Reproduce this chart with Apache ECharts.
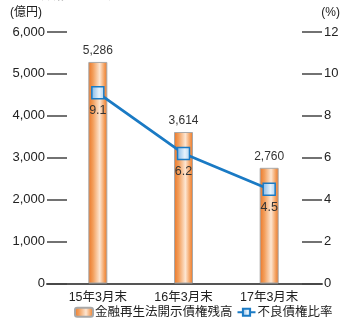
<!DOCTYPE html>
<html>
<head>
<meta charset="utf-8">
<script src="https://cdn.jsdelivr.net/npm/echarts@6/dist/echarts.min.js"></script>
<style>
  html, body { margin: 0; padding: 0; background: #fff; }
  #chart { width: 344px; height: 323px; }
</style>
</head>
<body>
<div id="chart"></div>
<script>
// Fiscal period categories
var categories = ['15年3月末', '16年3月末', '17年3月末'];
// Disclosed claims under the Financial Reconstruction Act (100 million yen)
var claimBalance = [5286, 3614, 2760];
// Non-performing loan ratio (%)
var nplRatio = [9.1, 6.2, 4.5];
// Axis settings
var leftAxis = { min: 0, max: 6000, interval: 1000 };
var rightAxis = { min: 0, max: 12, interval: 2 };

var FONT = "'Liberation Sans', 'Noto Sans CJK JP', sans-serif";
var chart = echarts.init(document.getElementById('chart'), null, { renderer: 'canvas' });

function addCommas(v) {
  return String(v).replace(/\B(?=(\d{3})+(?!\d))/g, ',');
}

var barFill = new echarts.graphic.LinearGradient(0, 0, 1, 0, [
  { offset: 0, color: '#ea7628' },
  { offset: 0.25, color: '#f39f5c' },
  { offset: 0.6, color: '#fde6d2' },
  { offset: 0.85, color: '#f39c58' },
  { offset: 1, color: '#ea7628' }
]);
var markerFill = new echarts.graphic.LinearGradient(0, 0, 1, 0, [
  { offset: 0, color: '#7fb6e6' },
  { offset: 0.6, color: '#e8f3fc' },
  { offset: 1, color: '#a9cfee' }
]);

var tickStyle = { color: '#444', width: 1.5 };
var labelStyle = { color: '#222', fontSize: 13, fontFamily: FONT };

chart.setOption({
  animation: false,
  textStyle: { fontFamily: FONT },
  grid: [
    { left: 55, right: 32, top: 32, bottom: 39.5 },
    { left: 47, right: 22, top: 32, bottom: 39.5 }
  ],
  graphic: [
    { type: 'text', left: 20, top: -10, style: { text: '不良債権等の推移', font: 'bold 12px ' + FONT, fill: '#222' } },
    { type: 'text', left: 10, top: 7, style: { text: '(億円)', font: '12px ' + FONT, fill: '#222' } },
    { type: 'text', right: 4, top: 7, style: { text: '(%)', font: '12px ' + FONT, fill: '#222' } }
  ],
  xAxis: [
    {
      type: 'category', gridIndex: 0, data: categories,
      axisLine: { show: false }, axisTick: { show: false },
      axisLabel: { color: '#222', fontSize: 12.5, margin: 8, fontFamily: FONT }
    },
    {
      type: 'category', gridIndex: 1, data: categories,
      axisLine: { show: true, lineStyle: { color: '#555', width: 2 } },
      axisTick: { show: false }, axisLabel: { show: false }
    }
  ],
  yAxis: [
    {
      type: 'value', gridIndex: 0, position: 'left', offset: 8,
      min: leftAxis.min, max: leftAxis.max, interval: leftAxis.interval,
      axisLine: { show: false },
      axisTick: { show: true, inside: true, length: 20, lineStyle: tickStyle },
      axisLabel: Object.assign({ margin: 2, formatter: addCommas }, labelStyle),
      splitLine: { show: false }
    },
    {
      type: 'value', gridIndex: 0, position: 'right', offset: 10,
      min: rightAxis.min, max: rightAxis.max, interval: rightAxis.interval,
      axisLine: { show: false },
      axisTick: { show: true, inside: true, length: 20, lineStyle: tickStyle },
      axisLabel: Object.assign({ margin: 2 }, labelStyle),
      splitLine: { show: false }
    },
    { type: 'value', gridIndex: 1, show: false, min: 0, max: 1 }
  ],
  legend: {
    left: 74, right: 0, top: 306, padding: 0,
    itemWidth: 18, itemHeight: 9, itemGap: 4,
    textStyle: { color: '#222', fontSize: 12.5, fontFamily: FONT, padding: [0, 0, 0, -3] },
    data: ['金融再生法開示債権残高', '不良債権比率']
  },
  series: [
    {
      name: '金融再生法開示債権残高',
      type: 'bar', xAxisIndex: 0, yAxisIndex: 0,
      data: claimBalance, barWidth: 19,
      itemStyle: { color: barFill, borderColor: '#a8a8a8', borderWidth: 1 },
      label: {
        show: true, position: 'top', distance: 5,
        color: '#333', fontSize: 12, fontFamily: FONT,
        formatter: function (p) { return addCommas(p.value); }
      }
    },
    {
      name: '不良債権比率',
      type: 'line', xAxisIndex: 0, yAxisIndex: 1,
      data: nplRatio,
      symbol: 'rect', symbolSize: 12,
      lineStyle: { color: '#1a7ac4', width: 2.8 },
      itemStyle: { color: markerFill, borderColor: '#1a7ac4', borderWidth: 1.5 },
      label: {
        show: true, position: 'bottom', distance: 5,
        color: '#333', fontSize: 12.5, fontFamily: FONT,
        formatter: function (p) { return p.value.toFixed(1); }
      }
    }
  ]
});
</script>
</body>
</html>
